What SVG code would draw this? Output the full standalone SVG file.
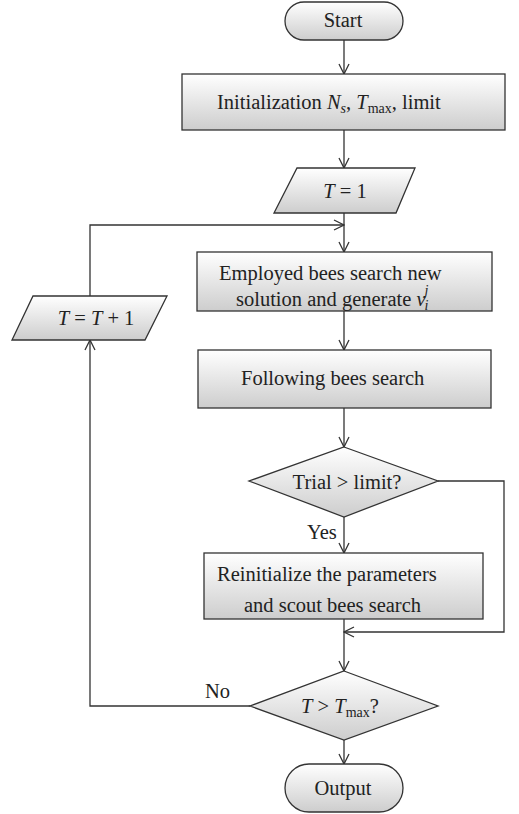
<svg xmlns="http://www.w3.org/2000/svg" width="519" height="814" viewBox="0 0 519 814">
<style>
.s{stroke:#333;stroke-width:1.3;fill:url(#g)}
.c{stroke:#333;stroke-width:1.3;fill:none}
text{font-family:"Liberation Serif","Times New Roman",serif;font-size:20.5px;fill:#222}
.m{text-anchor:middle}
.i{font-style:italic}
.sub{font-size:14px}
</style>
<defs>
<linearGradient id="g" x1="0" y1="0" x2="0" y2="1">
<stop offset="0" stop-color="#ffffff"/>
<stop offset="1" stop-color="#cdcdcd"/>
</linearGradient>
<marker id="a" viewBox="0 0 12 12" refX="11" refY="6" markerWidth="12" markerHeight="12" markerUnits="userSpaceOnUse" orient="auto">
<path d="M1,1 L11,6 L1,11" fill="none" stroke="#333" stroke-width="1.3"/>
</marker>
</defs>
<g id="connectors">
<line class="c" x1="344" y1="40" x2="344" y2="74" marker-end="url(#a)"/>
<line class="c" x1="344" y1="130" x2="344" y2="168" marker-end="url(#a)"/>
<line class="c" x1="344" y1="213" x2="344" y2="252" marker-end="url(#a)"/>
<polyline class="c" points="90,296 90,225 344,225" marker-end="url(#a)"/>
<line class="c" x1="344" y1="311" x2="344" y2="350" marker-end="url(#a)"/>
<line class="c" x1="344" y1="408" x2="344" y2="447" marker-end="url(#a)"/>
<line class="c" x1="344" y1="517" x2="344" y2="553" marker-end="url(#a)"/>
<polyline class="c" points="438,481 504,481 504,632 344,632" marker-end="url(#a)"/>
<line class="c" x1="344" y1="619" x2="344" y2="671" marker-end="url(#a)"/>
<polyline class="c" points="250,706 90,706 90,340" marker-end="url(#a)"/>
<line class="c" x1="344" y1="740" x2="344" y2="764" marker-end="url(#a)"/>
<text x="307" y="539">Yes</text>
<text x="205" y="698">No</text>
</g>
<g id="start">
<rect class="s" x="285" y="2" width="118" height="38" rx="19"/>
<text class="m" x="343" y="27">Start</text>
</g>
<g id="init">
<rect class="s" x="182" y="74" width="323" height="56"/>
<text x="217" y="109">Initialization <tspan class="i">N</tspan><tspan class="i sub" dy="4">s</tspan><tspan dy="-4">, </tspan><tspan class="i">T</tspan><tspan class="sub" dy="4">max</tspan><tspan dy="-4">, limit</tspan></text>
</g>
<g id="t1">
<polygon class="s" points="297,168 415,168 396,213 274,213"/>
<text class="m" x="345" y="198"><tspan class="i">T</tspan> = 1</text>
</g>
<g id="employed">
<rect class="s" x="197" y="252" width="295" height="59"/>
<text x="219" y="280">Employed bees search new</text>
<text x="236" y="306">solution and generate <tspan class="i">v</tspan><tspan class="i sub" dx="-1" dy="4">i</tspan><tspan class="i sub" dx="-4" dy="-15">j</tspan></text>
</g>
<g id="tinc">
<polygon class="s" points="33,296 167,296 145,340 12,340"/>
<text class="m" x="96" y="325"><tspan class="i">T</tspan> = <tspan class="i">T</tspan> + 1</text>
</g>
<g id="following">
<rect class="s" x="198" y="350" width="293" height="58"/>
<text x="241" y="385">Following bees search</text>
</g>
<g id="trial">
<polygon class="s" points="344,447 438,481 344,517 249,481"/>
<text class="m" x="347" y="489">Trial &gt; limit?</text>
</g>
<g id="reinit">
<rect class="s" x="204" y="553" width="279" height="66"/>
<text x="217" y="581">Reinitialize the parameters</text>
<text x="244" y="612">and scout bees search</text>
</g>
<g id="tmax">
<polygon class="s" points="344,671 438,706 344,740 250,706"/>
<text class="m" x="340" y="713"><tspan class="i">T</tspan> &gt; <tspan class="i">T</tspan><tspan class="sub" dy="4">max</tspan><tspan dy="-4">?</tspan></text>
</g>
<g id="output">
<rect class="s" x="285" y="764" width="118" height="48" rx="24"/>
<text class="m" x="343" y="795">Output</text>
</g>
</svg>
